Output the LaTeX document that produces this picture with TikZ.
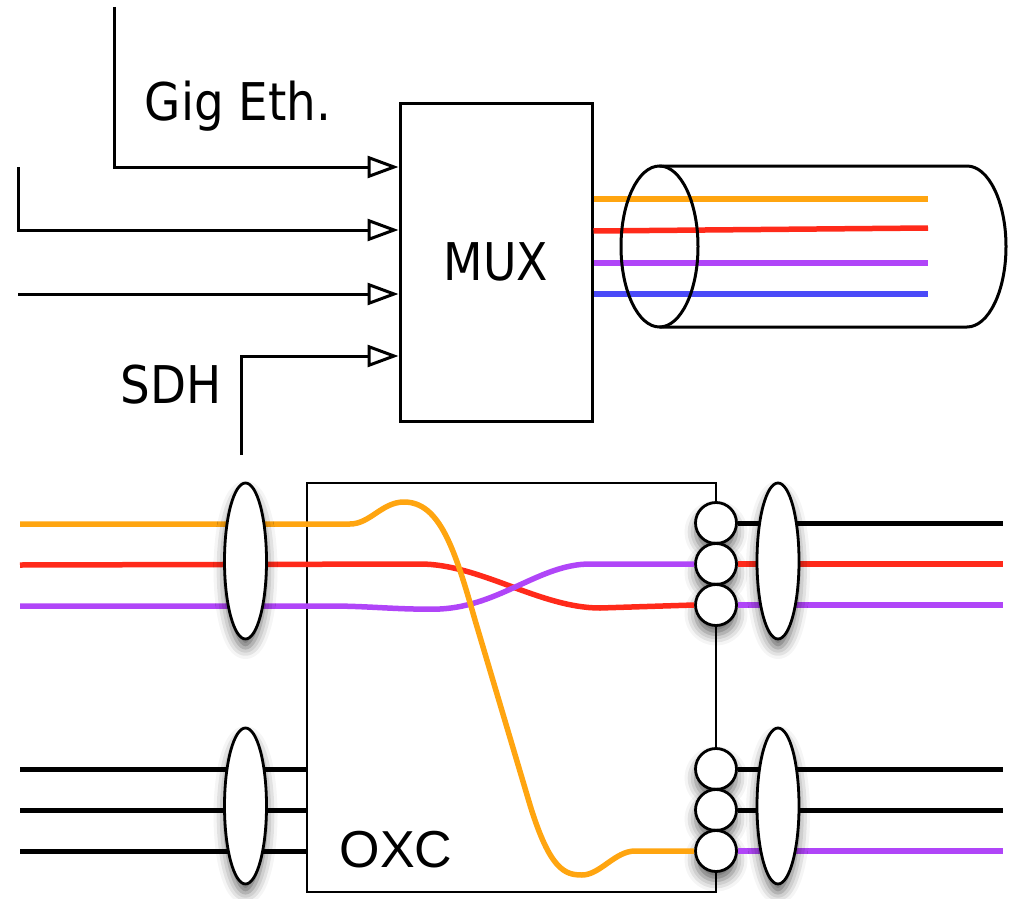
\documentclass[tikz,border=0pt]{standalone}
\usepackage{fontspec}
\setmainfont{Liberation Sans}
\newfontfamily\labelfont{DejaVu Sans}
\usetikzlibrary{arrows.meta,shapes.geometric,shadows.blur}
\definecolor{corange}{HTML}{FFA510}
\definecolor{cred}{HTML}{FF2A1A}
\definecolor{cpurple}{HTML}{B045F8}
\definecolor{cblue}{HTML}{4A4AF8}
\begin{document}
\begin{tikzpicture}[x=1pt,y=-1pt,
  wire/.style={line width=3pt},
  inarrow/.style={line width=3pt,-{Triangle[open,length=31pt,width=22pt,fill=white]}},
  fiber/.style={line width=5.5pt},
  blackfiber/.style={line width=5pt,black},
  softshadow/.style={blur shadow={shadow xshift=0pt,shadow yshift=-9pt,shadow blur radius=11pt,shadow opacity=60}},
  lens/.style={ellipse,draw,fill=white,line width=2.8pt,minimum width=42pt,minimum height=156pt,inner sep=0pt,softshadow},
  port/.style={circle,draw,fill=white,line width=2.8pt,minimum size=41pt,inner sep=0pt,softshadow},
  bigtext/.style={font=\labelfont\fontsize{52}{60}\selectfont},
  oxctext/.style={font=\fontsize{52}{60}\selectfont}
]
\useasboundingbox (0,0) rectangle (1012,899);

% ---------- MUX part ----------
\node[draw,line width=3pt,minimum width=192pt,minimum height=318pt,inner sep=0pt,bigtext] (mux) at (496,262) {\scalebox{0.88}[1]{MUX}};
\node[bigtext,anchor=base] (gig) at (238,120) {\scalebox{0.9}[1]{Gig Eth.}};
\node[bigtext,anchor=base] (sdh) at (171,403) {\scalebox{0.9}[1]{SDH}};

\coordinate (in1) at (114,7);
\coordinate (in2) at (18,167);
\coordinate (in3) at (18,294);
\coordinate (in4) at (241,455);
\draw[inarrow] (in1) |- (mux.west |- 0,167);
\draw[inarrow] (in2) |- (mux.west |- 0,230);
\draw[inarrow] (in3) -- (mux.west |- 0,294);
\draw[inarrow] (in4) |- (mux.west |- 0,356);

% fibres in the cable
\coordinate (f1) at (928,199);
\coordinate (f2) at (928,228);
\coordinate (f3) at (928,263);
\coordinate (f4) at (928,294);
\draw[fiber,corange] (mux.east |- 0,199) -- (f1);
\draw[fiber,cred] (mux.east |- 0,231) -- (f2);
\draw[fiber,cpurple] (mux.east |- 0,263) -- (f3);
\draw[fiber,cblue] (mux.east |- 0,294) -- (f4);

% cable
\draw[wire] (659.5,166) -- (967,166) arc[start angle=-90,end angle=90,x radius=39,y radius=80.5] -- (659.5,327);
\draw[wire] (659.5,246.5) ellipse[x radius=38.5,y radius=80.5];

% ---------- OXC part ----------
\node[draw,line width=2.5pt,minimum width=409pt,minimum height=409pt,inner sep=0pt] (oxc) at (511.5,687.5) {};
\node[oxctext,anchor=base] (oxclabel) at (396,867) {OXC};

\node[port] (c1) at (716,523) {};
\node[port] (c2) at (716,564) {};
\node[port] (c3) at (716,605) {};
\node[port] (c4) at (716,769) {};
\node[port] (c5) at (716,810) {};
\node[port] (c6) at (716,851) {};

% left inputs
\coordinate (l1) at (20,524);
\coordinate (l2) at (20,565);
\coordinate (l3) at (20,606);
\coordinate (l4) at (20,769);
\coordinate (l5) at (20,810);
\coordinate (l6) at (20,851);

\draw[fiber,cred] (l2) -- (420,564) .. controls (480,564) and (540,608) .. (600,608) -- (c3.west);
\draw[fiber,cpurple] (l3) -- (330,606) .. controls (370,606) and (400,610) .. (440,609) .. controls (500,606) and (540,564) .. (590,564) -- (c2.west);
\draw[fiber,corange] (l1) -- (350,524) .. controls (370,524) and (382,502) .. (404,502) .. controls (440,502) and (455,550) .. (475,620) -- (530,805) .. controls (550,870) and (565,875) .. (582,875) .. controls (600,875) and (615,851) .. (635,851) -- (c6.west);
\draw[blackfiber] (l4) -- (oxc.west |- l4);
\draw[blackfiber] (l5) -- (oxc.west |- l5);
\draw[blackfiber] (l6) -- (oxc.west |- l6);

% right outputs
\coordinate (r1) at (1003,523);
\coordinate (r2) at (1003,564);
\coordinate (r3) at (1003,605);
\coordinate (r4) at (1003,769);
\coordinate (r5) at (1003,810);
\coordinate (r6) at (1003,851);
\draw[blackfiber] (c1.east) -- (r1);
\draw[fiber,cred] (c2.east) -- (r2);
\draw[fiber,cpurple] (c3.east) -- (r3);
\draw[blackfiber] (c4.east) -- (r4);
\draw[blackfiber] (c5.east) -- (r5);
\draw[fiber,cpurple] (c6.east) -- (r6);

% lenses
\node[lens] (e1) at (245.5,561) {};
\node[lens] (e2) at (245.5,806) {};
\node[lens] (e3) at (778,561) {};
\node[lens] (e4) at (778,806) {};
\end{tikzpicture}
\end{document}
